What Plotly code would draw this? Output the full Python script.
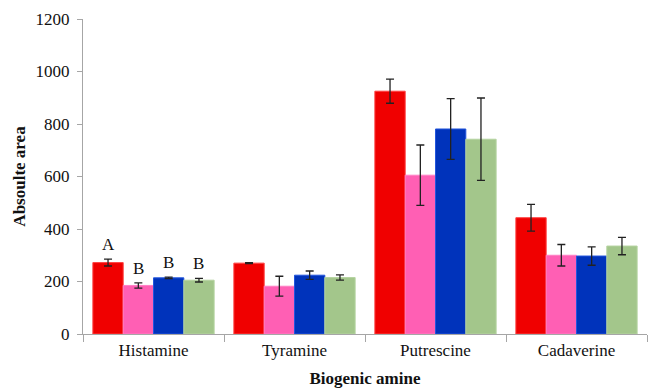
import plotly.graph_objects as go

amines = ["Histamine", "Tyramine", "Putrescine", "Cadaverine"]

# Mean absolute area per treatment, with standard deviation
series = [
    {"values": [272, 270, 925, 443], "errors": [13, 2, 46, 51], "color": "#F00000", "edge": "#FF4040"},
    {"values": [185, 182, 605, 300], "errors": [10, 38, 115, 41], "color": "#FF5FB4", "edge": "#FF7FC4"},
    {"values": [214, 224, 781, 297], "errors": [3, 16, 116, 35], "color": "#0033BB", "edge": "#2255DD"},
    {"values": [205, 215, 742, 335], "errors": [7, 10, 157, 33], "color": "#A3C68B", "edge": "#B5D3A0"},
]

# Significance letters for Histamine
letters = ["A", "B", "B", "B"]

SERIF = "Liberation Serif"
TEXT = dict(family=SERIF, size=17, color="#111111")

bargap = 0.14
fig = go.Figure()
for s in series:
    fig.add_trace(go.Bar(
        x=amines, y=s["values"],
        marker=dict(color=s["color"], line=dict(color=s["edge"], width=1)),
        error_y=dict(type="data", array=s["errors"], color="#222222", thickness=1.3, width=4),
        showlegend=False,
    ))

# Letters sit above each Histamine bar's error bar
n = len(series)
bw = (1 - bargap) / n
for i, (letter, s) in enumerate(zip(letters, series)):
    fig.add_annotation(
        x=0 - (1 - bargap) / 2 + bw * (i + 0.5), xref="x",
        y=s["values"][0] + s["errors"][0], yref="y",
        text=letter, showarrow=False, yanchor="bottom", yshift=3,
        font=dict(TEXT),
    )

fig.update_layout(
    width=648, height=388,
    margin=dict(l=83, r=1, t=19, b=54),
    paper_bgcolor="white", plot_bgcolor="white",
    barmode="group", bargap=bargap, bargroupgap=0,
    font=dict(TEXT),
    xaxis=dict(
        showline=True, linecolor="#A6A6A6", linewidth=1.3,
        ticks="outside", tickson="boundaries", ticklen=7, tickcolor="#A6A6A6",
        tickfont=dict(TEXT), showgrid=False,
        title=dict(text="<b>Biogenic amine</b>", font=dict(TEXT), standoff=16),
    ),
    yaxis=dict(
        range=[0, 1200], tickvals=[0, 200, 400, 600, 800, 1000, 1200],
        showline=True, linecolor="#A6A6A6", linewidth=1.3,
        ticks="outside", ticklen=5, tickcolor="#A6A6A6", ticklabelstandoff=4,
        tickfont=dict(TEXT), showgrid=False, zeroline=False,
        title=dict(text="<b>Absoulte area</b>", font=dict(TEXT), standoff=5),
    ),
)

fig.write_html("out.html")
